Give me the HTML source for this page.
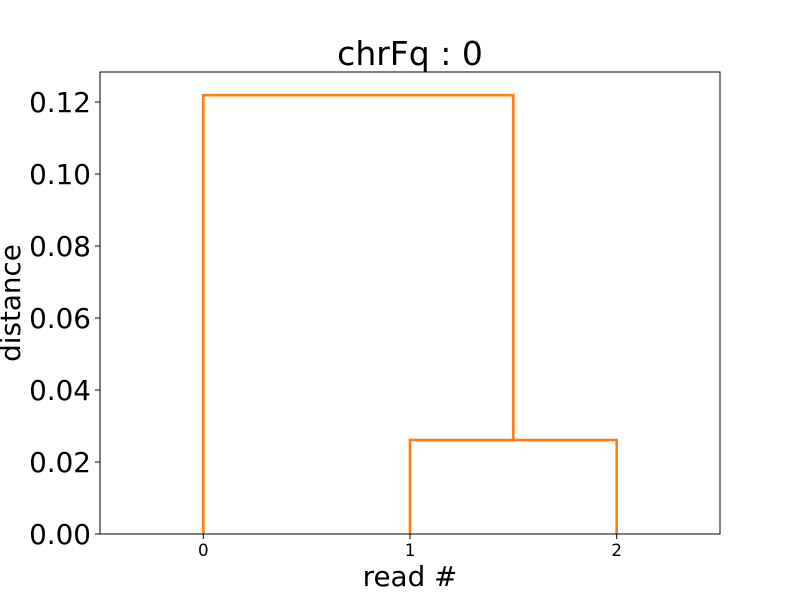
<!DOCTYPE html>
<html><head><meta charset="utf-8"><style>
body{margin:0;background:#fff}
svg text{font-family:"DejaVu Sans","Liberation Sans",sans-serif;fill:#000}
</style></head><body>
<svg id="chart" width="800" height="600" xmlns="http://www.w3.org/2000/svg">
<rect width="800" height="600" fill="#fff"/>
<g id="marks"></g>
<g id="axes"></g>
<rect x="100" y="72" width="620" height="462" fill="none" stroke="#000" stroke-width="1"/>
<text x="410" y="65" font-size="33" text-anchor="middle">chrFq : 0</text>
<text x="410" y="586" font-size="27.8" text-anchor="middle">read #</text>
<text transform="translate(20,303) rotate(-90)" font-size="27.8" text-anchor="middle">distance</text>
</svg>
<script>
const leafLabels = ["0","1","2"];
const yTicks = [0,0.02,0.04,0.06,0.08,0.10,0.12];
const yTickLabels = ["0.00","0.02","0.04","0.06","0.08","0.10","0.12"];
const linkLeft = [1, 0];
const linkRight = [2, 1.5];
const linkHeight = [0.0261, 0.1219];
const linkLeftBase = [0, 0];
const linkRightBase = [0, 0.0261];

const X0=100,X1=720,Y0=534,Y1=72, xmin=-0.5,xmax=2.5,ymin=0,ymax=0.12833;
const sx=v=>X0+(v-xmin)/(xmax-xmin)*(X1-X0);
const sy=v=>Y0-(v-ymin)/(ymax-ymin)*(Y0-Y1);
const NS="http://www.w3.org/2000/svg";
const marks=document.getElementById('marks'), axes=document.getElementById('axes');
for(let i=0;i<linkHeight.length;i++){
  const p=document.createElementNS(NS,'polyline');
  p.setAttribute('points',`${sx(linkLeft[i])},${sy(linkLeftBase[i])} ${sx(linkLeft[i])},${sy(linkHeight[i])} ${sx(linkRight[i])},${sy(linkHeight[i])} ${sx(linkRight[i])},${sy(linkRightBase[i])}`);
  p.setAttribute('fill','none');p.setAttribute('stroke','#ff7f0e');p.setAttribute('stroke-width','2.6');
  
  
  marks.appendChild(p);
}
yTicks.forEach((v,i)=>{
  const y=sy(v);
  const l=document.createElementNS(NS,'line');
  l.setAttribute('x1',X0-5);l.setAttribute('x2',X0);l.setAttribute('y1',y);l.setAttribute('y2',y);l.setAttribute('stroke','#000');
  
  
  axes.appendChild(l);
  const t=document.createElementNS(NS,'text');
  t.setAttribute('x',X0-9);t.setAttribute('y',y+10);t.setAttribute('font-size','27.8');t.setAttribute('text-anchor','end');
  t.textContent=yTickLabels[i];
  
  
  axes.appendChild(t);
});
leafLabels.forEach((lab,i)=>{
  const x=sx(i);
  const l=document.createElementNS(NS,'line');
  l.setAttribute('x1',x);l.setAttribute('x2',x);l.setAttribute('y1',Y0);l.setAttribute('y2',Y0+5);l.setAttribute('stroke','#000');
  
  
  axes.appendChild(l);
  const t=document.createElementNS(NS,'text');
  t.setAttribute('x',x);t.setAttribute('y',Y0+22);t.setAttribute('font-size','16.7');t.setAttribute('text-anchor','middle');
  t.textContent=lab;
  
  
  axes.appendChild(t);
});
</script>
</body></html>
